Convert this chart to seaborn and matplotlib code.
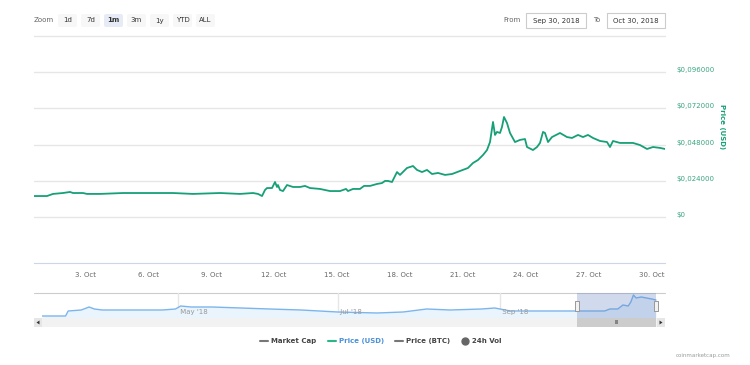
import pandas as pd
import matplotlib
matplotlib.use("Agg")
import matplotlib.pyplot as plt
from matplotlib.lines import Line2D
from matplotlib.patches import FancyBboxPatch, Rectangle, Polygon
from matplotlib.transforms import offset_copy
import seaborn as sns

# main window: price (USD), time as day offsets from 30 Sep 2018 00:00
price_days = [0.571, 1.190, 1.476, 1.952, 2.286, 2.429, 2.905, 3.095, 3.714, 4.810,
              5.619, 7.190, 8.143, 9.429, 10.381, 11.000, 11.238, 11.429, 11.571, 11.667,
              11.905, 12.048, 12.143, 12.190, 12.286, 12.429, 12.619, 12.905, 13.238, 13.476,
              13.714, 14.190, 14.667, 15.143, 15.429, 15.524, 15.762, 16.095, 16.286, 16.571,
              16.905, 17.143, 17.286, 17.429, 17.619, 17.857, 18.000, 18.333, 18.619, 18.810,
              19.048, 19.286, 19.524, 19.810, 20.143, 20.476, 20.857, 21.238, 21.476, 21.714,
              21.952, 22.143, 22.286, 22.429, 22.524, 22.619, 22.762, 22.857, 22.952, 23.095,
              23.238, 23.476, 23.714, 23.952, 24.048, 24.333, 24.524, 24.667, 24.810, 24.905,
              25.048, 25.238, 25.619, 25.952, 26.190, 26.476, 26.714, 26.952, 27.190, 27.524,
              27.857, 28.000, 28.143, 28.476, 28.810, 29.095, 29.429, 29.762, 30.048, 30.381,
              30.619]
price_usd = [0.0139, 0.0139, 0.0153, 0.0159, 0.0166, 0.0159, 0.0159, 0.0153, 0.0153, 0.0159,
             0.0159, 0.0159, 0.0153, 0.0159, 0.0153, 0.0159, 0.0153, 0.0139, 0.0179, 0.0192,
             0.0192, 0.0232, 0.0199, 0.0212, 0.0179, 0.0172, 0.0212, 0.0199, 0.0199, 0.0206,
             0.0192, 0.0186, 0.0172, 0.0172, 0.0186, 0.0172, 0.0186, 0.0186, 0.0206, 0.0206,
             0.0219, 0.0225, 0.0239, 0.0239, 0.0232, 0.0298, 0.0279, 0.0325, 0.0338, 0.0312,
             0.0298, 0.0312, 0.0285, 0.0292, 0.0279, 0.0285, 0.0305, 0.0325, 0.0358, 0.0378,
             0.0411, 0.0444, 0.0497, 0.0630, 0.0544, 0.0564, 0.0557, 0.0597, 0.0663, 0.0623,
             0.0557, 0.0497, 0.0511, 0.0517, 0.0464, 0.0444, 0.0464, 0.0491, 0.0564, 0.0557,
             0.0497, 0.0530, 0.0557, 0.0530, 0.0524, 0.0544, 0.0530, 0.0544, 0.0524, 0.0504,
             0.0497, 0.0464, 0.0504, 0.0491, 0.0491, 0.0491, 0.0477, 0.0451, 0.0464, 0.0458,
             0.0451]

# navigator series (full history)
nav_dates = ["2018-03-10", "2018-03-19", "2018-03-20", "2018-03-25", "2018-03-28",
             "2018-03-30", "2018-04-02", "2018-04-13", "2018-04-25", "2018-04-30",
             "2018-05-02", "2018-05-06", "2018-05-14", "2018-05-25", "2018-06-05",
             "2018-06-17", "2018-07-01", "2018-07-16", "2018-07-26", "2018-08-04",
             "2018-08-13", "2018-08-25", "2018-08-30", "2018-09-05", "2018-09-16",
             "2018-09-24", "2018-09-30", "2018-10-11", "2018-10-13", "2018-10-16",
             "2018-10-18", "2018-10-20", "2018-10-21", "2018-10-22", "2018-10-23",
             "2018-10-25", "2018-10-27", "2018-10-29", "2018-10-30 15:00"]
nav_price = [0.0056, 0.0056, 0.0196, 0.0224, 0.0308,
             0.0252, 0.0224, 0.0224, 0.0224, 0.0252,
             0.0336, 0.0308, 0.0308, 0.0280, 0.0252,
             0.0224, 0.0168, 0.0140, 0.0168, 0.0252,
             0.0224, 0.0252, 0.0280, 0.0196, 0.0196,
             0.0196, 0.0196, 0.0196, 0.0252, 0.0252,
             0.0364, 0.0336, 0.0448, 0.0644, 0.0560,
             0.0588, 0.0560, 0.0532, 0.0504]

y_ticks = [0, 0.024, 0.048, 0.072, 0.096, 0.12]
y_tick_labels = ["$0", "$0,024000", "$0,048000", "$0,072000", "$0,096000", ""]
x_tick_dates = ["2018-10-03", "2018-10-06", "2018-10-09", "2018-10-12", "2018-10-15",
                "2018-10-18", "2018-10-21", "2018-10-24", "2018-10-27", "2018-10-30"]
x_tick_labels = ["3. Oct", "6. Oct", "9. Oct", "12. Oct", "15. Oct",
                 "18. Oct", "21. Oct", "24. Oct", "27. Oct", "30. Oct"]
nav_months = ["2018-05-01", "2018-07-01", "2018-09-01"]
nav_month_labels = ["May '18", "Jul '18", "Sep '18"]
zoom_buttons = ["1d", "7d", "1m", "3m", "1y", "YTD", "ALL"]
selected_button = "1m"
range_from = "Sep 30, 2018"
range_to = "Oct 30, 2018"
legend_labels = ["Market Cap", "Price (USD)", "Price (BTC)", "24h Vol"]

GREEN = "#16a077"
W, H = 750, 365

sns.set_style("white")
plt.rcParams["font.family"] = ["DejaVu Sans"]

base = pd.Timestamp("2018-09-30")
df = pd.DataFrame({"time": base + pd.to_timedelta(price_days, unit="D"), "price": price_usd})
nav = pd.DataFrame({"time": pd.to_datetime(nav_dates, format="ISO8601"), "price": nav_price})
win_start, win_end = df["time"].iloc[0], df["time"].iloc[-1]

fig = plt.figure(figsize=(W / 100, H / 100), dpi=100)

# ---- main chart
ax = fig.add_axes([34 / W, 1 - 263 / H, 631 / W, 227 / H])
sns.lineplot(data=df, x="time", y="price", ax=ax, color=GREEN, lw=1.3)
ax.set_xlim(win_start, win_end)
ax.set_ylim(-0.0305, 0.12)
for y in y_ticks:
    ax.axhline(y, color="#e6e6e6", lw=1, zorder=0, clip_on=False)
for s in ["top", "left", "right"]:
    ax.spines[s].set_visible(False)
ax.spines["bottom"].set_color("#ccd6eb")
ax.set_yticks([])
ax.set_xlabel("")
ax.set_ylabel("")
ax.set_xticks(pd.to_datetime(x_tick_dates))
ax.set_xticklabels(x_tick_labels)
ax.tick_params(axis="x", length=5, color="#ccd6eb", labelsize=5, labelcolor="#666666", pad=1.5)
tr = offset_copy(ax.get_yaxis_transform(), fig=fig, x=11, y=2, units="dots")
for y, lbl in zip(y_ticks, y_tick_labels):
    ax.text(1, y, lbl, transform=tr, ha="left", va="center", fontsize=5, color="#3aa57f")
fig.text(722 / W, 1 - 127 / H, "Price (USD)", rotation=270, ha="center", va="center",
         fontsize=5, fontweight="bold", color=GREEN)

# ---- navigator
nax = fig.add_axes([42 / W, 1 - 318 / H, 615 / W, 25 / H])
nax.fill_between(nav["time"], nav["price"], 0, color="#eaf4fc", lw=0)
sns.lineplot(data=nav, x="time", y="price", ax=nax, color="#7cb5ec", lw=1)
nax.set_xlim(pd.Timestamp("2018-03-10"), pd.Timestamp("2018-10-31"))
nax.set_ylim(0, 0.07)
nax.axis("off")
for d, lbl in zip(pd.to_datetime(nav_months), nav_month_labels):
    nax.axvline(d, color="#e6e6e6", lw=1, zorder=0)
    nax.text(d, 0.25, " " + lbl, transform=nax.get_xaxis_transform(), fontsize=5,
             color="#999999", va="center", ha="left")
nax.axvspan(win_start, win_end, color="#6685c2", alpha=0.3, lw=0, zorder=3)
handle = [(-2.5, -5), (2.5, -5), (2.5, 5), (-2.5, 5), (-2.5, -5)]
for t in [win_start, win_end]:
    nax.plot([t], [0.035], marker=handle, markersize=7, mfc="#f2f2f2", mec="#999999",
             mew=0.7, zorder=5, clip_on=False)

# scrollbar track
sax = fig.add_axes([42 / W, 1 - 327 / H, 615 / W, 9 / H], sharex=nax)
sax.axis("off")
sax.axvspan(pd.Timestamp("2018-03-10"), pd.Timestamp("2018-10-31"), color="#f2f2f2", lw=0)
sax.axvspan(win_start, win_end, color="#cccccc", lw=0)
mid = win_start + (win_end - win_start) / 2
sax.text(mid, 0.5, "III", fontsize=3.5, color="#333333", ha="center", va="center",
         transform=sax.get_xaxis_transform())

# ---- overlay for chrome (buttons, range boxes, scroll buttons)
ov = fig.add_axes([0, 0, 1, 1], zorder=-1)
ov.set_xlim(0, W)
ov.set_ylim(H, 0)
ov.axis("off")
ov.plot([34, 665], [293, 293], color="#cccccc", lw=0.8)
for x0, tri in [(34, [(39.5, 320.5), (39.5, 324.5), (36.5, 322.5)]),
                (657, [(659.5, 320.5), (659.5, 324.5), (662.5, 322.5)])]:
    ov.add_patch(Rectangle((x0, 318), 8, 9, color="#e6e6e6", lw=0))
    ov.add_patch(Polygon(tri, color="#333333", lw=0))

ov.text(34, 20.5, "Zoom", fontsize=5, color="#666666", va="center", ha="left")
bx = 58
for b in zoom_buttons:
    sel = b == selected_button
    ov.add_patch(FancyBboxPatch((bx, 14), 19, 13, boxstyle="round,pad=0,rounding_size=2",
                                fc="#e6ebf5" if sel else "#f7f7f7", ec="none"))
    ov.text(bx + 9.5, 20.5, b, fontsize=5, color="#333333", ha="center", va="center",
            fontweight="bold" if sel else "normal")
    bx += 23

ov.text(503, 20.5, "From", fontsize=5, color="#666666", va="center", ha="left")
ov.add_patch(Rectangle((526, 13), 60, 15, fc="white", ec="#cccccc", lw=0.8))
ov.text(556, 20.5, range_from, fontsize=5, color="#333333", ha="center", va="center")
ov.text(593, 20.5, "To", fontsize=5, color="#666666", va="center", ha="left")
ov.add_patch(Rectangle((607, 13), 58, 15, fc="white", ec="#cccccc", lw=0.8))
ov.text(636, 20.5, range_to, fontsize=5, color="#333333", ha="center", va="center")

# ---- legend
handles = [Line2D([], [], color="#777777", lw=1.5),
           Line2D([], [], color="#2bb58a", lw=1.5),
           Line2D([], [], color="#777777", lw=1.5),
           Line2D([], [], color="#666666", marker="o", ls="", markersize=5)]
leg = fig.legend(handles, legend_labels, ncol=4, loc="center", bbox_to_anchor=(381 / W, 1 - 341 / H),
                 frameon=False, fontsize=5, handlelength=1.2, handletextpad=0.4, columnspacing=1.6)
for i, t in enumerate(leg.get_texts()):
    t.set_fontweight("bold")
    t.set_color("#4a90d9" if i == 1 else "#444444")

fig.text(676 / W, 1 - 356 / H, "coinmarketcap.com", fontsize=4, color="#999999", va="center")

fig.savefig("out.png", dpi=100)
